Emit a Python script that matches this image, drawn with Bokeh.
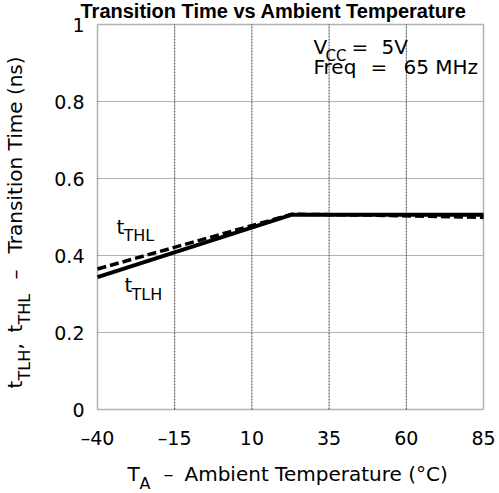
import math
from bokeh.plotting import figure
from bokeh.models import Label, Range1d, CustomJSTickFormatter, FixedTicker, BoxAnnotation
from bokeh.embed import file_html
from bokeh.resources import INLINE

# ---- data ----
temp_tlh = [-40, 23, 85]
t_tlh = [0.344, 0.506, 0.506]
temp_thl = [-40, 23, 48, 85]
t_thl = [0.365, 0.507, 0.505, 0.499]
x_ticks = [-40, -15, 10, 35, 60, 85]
y_ticks = [0, 0.2, 0.4, 0.6, 0.8, 1.0]

FONT = "DejaVu Sans"
W, H = 499, 493
# plot-area pixel geometry inside the canvas
L, R, T, B = 97, 483, 24, 409
XMIN, XMAX, YMIN, YMAX = x_ticks[0], x_ticks[-1], y_ticks[0], y_ticks[-1]


def X(px):
    return XMIN + (px - L) * (XMAX - XMIN) / (R - L)


def Y(py):
    return YMIN + (B - py) * (YMAX - YMIN) / (B - T)


p = figure(width=W, height=H, output_backend="svg", toolbar_location=None,
           x_range=Range1d(X(0), X(W)), y_range=Range1d(Y(H), Y(0)),
           min_border=0)
p.title.visible = False
p.background_fill_color = "white"
p.border_fill_color = "white"
p.outline_line_color = None
p.grid.visible = False

p.xaxis[0].fixed_location = YMIN
p.yaxis[0].fixed_location = XMIN
for ax in (p.xaxis[0], p.yaxis[0]):
    ax.axis_line_color = None
    ax.major_tick_line_color = None
    ax.minor_tick_line_color = None
    ax.major_tick_out = 0
    ax.minor_tick_out = 0
    ax.major_tick_in = 0
    ax.minor_tick_in = 0
    ax.major_label_text_font = FONT
    ax.major_label_text_font_size = "19px"
    ax.major_label_text_color = "black"
p.xaxis[0].ticker = FixedTicker(ticks=x_ticks)
p.yaxis[0].ticker = FixedTicker(ticks=y_ticks)
p.xaxis[0].formatter = CustomJSTickFormatter(
    code="return tick < 0 ? '\u2013' + Math.abs(tick) : tick.toString();")
p.yaxis[0].formatter = CustomJSTickFormatter(code="return (Math.round(tick*10)/10).toString();")
p.xaxis[0].major_label_standoff = 17
p.yaxis[0].major_label_standoff = 13

# grid lines (dotted) limited to the plot area
gx = x_ticks[1:-1]
p.segment(x0=gx, y0=[YMIN] * len(gx), x1=gx, y1=[YMAX] * len(gx),
          line_color="#444444", line_dash="2 1", line_width=1)
gy = y_ticks[1:-1]
p.segment(x0=[XMIN] * len(gy), y0=gy, x1=[XMAX] * len(gy), y1=gy,
          line_color="#666666", line_dash="1 1", line_width=1)

# plot-area frame
p.add_layout(BoxAnnotation(left=XMIN, right=XMAX, bottom=YMIN, top=YMAX,
                           fill_alpha=0, line_color="black", line_width=1.5))

p.line(temp_tlh, t_tlh, line_color="black", line_width=4)
p.line(temp_thl, t_thl, line_color="black", line_width=3.5, line_dash="9 4")


def lab(text, px, py, size=20, angle=0.0, font=FONT, style="normal", align="left"):
    # px, py: wanted pixel position of the text start on its baseline
    off = 0.45 * size
    if angle:
        px -= off + 2
    else:
        py -= off
    p.add_layout(Label(x=X(px), y=Y(py), text=text, text_font=font, text_font_size=f"{size}px",
                       text_font_style=style, text_align=align, text_baseline="alphabetic",
                       angle=angle, text_color="black"))


# title
lab("Transition Time vs Ambient Temperature", 273, 19.5, size=20,
    font="Liberation Sans", style="bold", align="center")

# annotation box text
lab("V", 313, 55)
lab("CC", 325, 62, size=15)
lab("=", 351, 55)
lab("5V", 381, 55)
lab("Freq", 313, 75)
lab("=", 370, 75)
lab("65 MHz", 403, 75)

# curve labels
lab("t", 116, 235)
lab("THL", 123, 242, size=16)
lab("t", 124, 293)
lab("TLH", 131, 301, size=16)

# x axis label
lab("T", 127, 482)
lab("A", 139, 490, size=16)
lab("\u2013", 163, 482)
lab("Ambient Temperature (\u00b0C)", 184, 482)

# y axis label (rotated)
A = math.pi / 2
lab("t", 25, 388, angle=A)
lab("TLH", 33, 380, size=16, angle=A)
lab(",", 25, 349, angle=A)
lab("t", 25, 332, angle=A)
lab("THL", 33, 324, size=16, angle=A)
lab("\u2013", 25, 279, angle=A)
lab("Transition Time (ns)", 25, 253, angle=A)

open("out.html", "w").write(file_html(p, INLINE))
